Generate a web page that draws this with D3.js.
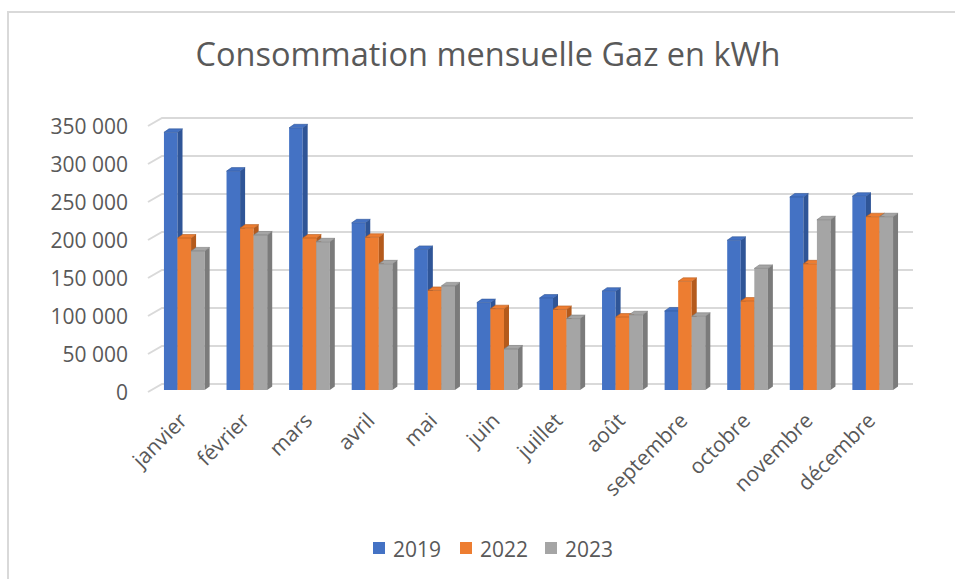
<!DOCTYPE html>
<html>
<head>
<meta charset="utf-8">
<script src="https://d3js.org/d3.v7.min.js"></script>
<style>
    body { margin: 0; background: #fff; }
    text { font-family: "Open Sans", "Noto Sans", sans-serif; fill: #595959; }
</style>
</head>
<body>
<div id="div1"></div>
<script>
var months = ["janvier", "février", "mars", "avril", "mai", "juin", "juillet", "août", "septembre", "octobre", "novembre", "décembre"];
var years = ["2019", "2022", "2023"];
var values2019 = [339000, 288000, 345000, 220000, 185000, 115000, 121000, 130000, 104000, 197000, 254000, 255000];
var values2022 = [200000, 213000, 200000, 201000, 131000, 107000, 106000, 96000, 143000, 117000, 166000, 228000];
var values2023 = [183000, 204000, 195000, 166000, 137000, 54000, 94000, 99000, 97000, 160000, 224000, 228000];
var yTicks = [0, 50000, 100000, 150000, 200000, 250000, 300000, 350000];
var title = "Consommation mensuelle Gaz en kWh";

window.onload = function () {

    var series = [values2019, values2022, values2023];

    //front colour, side colour for each year
    var colors = ["#4472C4", "#ED7D31", "#A5A5A5"];
    var sideColors = ["#2F5597", "#B45A1C", "#7B7B7B"];

    var svg = d3.select("#div1").append("svg").attr("width", 955).attr("height", 579);

    //Chart border (only top and left are in the picture).
    svg.append("path").attr("d", "M8,579 L8,12 L955,12").attr("fill", "none")
            .attr("stroke", "#D9D9D9").attr("stroke-width", 2);

    //Title.
    svg.append("text").attr("x", 488).attr("y", 66).attr("text-anchor", "middle")
            .style("font-size", "32.5px").text(title);

    //Scales. y is the back wall, the bars and labels are shifted to the front.
    var y = d3.scaleLinear().domain([0, 350000]).range([384, 118]);
    var x = d3.scaleBand().domain(months).range([153, 904]).paddingInner(0.35).paddingOuter(0.175);
    var x1 = d3.scaleBand().domain(years).range([0, x.bandwidth()]);

    var wallLeft = 162, wallRight = 913;
    var sideDx = -14, sideDy = 8;     //left side wall depth
    var barFront = 6;                 //bars stand this far below the back wall
    var depthX = 5, depthY = -3.5;    //depth of one bar

    var fmt = d3.formatLocale({decimal: ",", thousands: " ", grouping: [3], currency: ["", " €"]}).format(",");

    //Gridlines with the slanted part on the side wall.
    var grid = svg.append("g");
    grid.selectAll("path").data(yTicks).enter().append("path")
            .attr("d", function (d) {
                return "M" + (wallLeft + sideDx) + "," + (y(d) + sideDy) + " L" + wallLeft + "," + y(d) + " L" + wallRight + "," + y(d);
            })
            .attr("fill", "none").attr("stroke", "#D9D9D9").attr("stroke-width", 2);

    //Y tick labels.
    svg.append("g").selectAll("text").data(yTicks).enter().append("text")
            .attr("x", 128).attr("y", function (d) { return y(d) + sideDy; })
            .attr("dy", "0.36em").attr("text-anchor", "end").style("font-size", "21px")
            .text(function (d) { return fmt(d); });

    //Bars: front face, top and right side.
    var bars = [];
    for (var m = 0; m < months.length; m++) {
        for (var s = 0; s < years.length; s++) {
            bars.push({month: months[m], year: years[s], s: s, value: series[s][m]});
        }
    }

    var barG = svg.append("g").selectAll("g").data(bars).enter().append("g");
    var w = x1.bandwidth();

    barG.append("rect")
            .attr("x", function (d) { return x(d.month) + x1(d.year); })
            .attr("y", function (d) { return y(d.value) + barFront; })
            .attr("width", w)
            .attr("height", function (d) { return y(0) - y(d.value); })
            .attr("fill", function (d) { return colors[d.s]; });

    barG.append("path")
            .attr("d", function (d) {
                var x0 = x(d.month) + x1(d.year) + w, t = y(d.value) + barFront, b = y(0) + barFront;
                return "M" + x0 + "," + t + " L" + (x0 + depthX) + "," + (t + depthY) + " L" + (x0 + depthX) + "," + (b + depthY) + " L" + x0 + "," + b + "Z";
            })
            .attr("fill", function (d) { return sideColors[d.s]; });

    barG.append("path")
            .attr("d", function (d) {
                var x0 = x(d.month) + x1(d.year), t = y(d.value) + barFront;
                return "M" + x0 + "," + t + " L" + (x0 + depthX) + "," + (t + depthY) + " L" + (x0 + w + depthX) + "," + (t + depthY) + " L" + (x0 + w) + "," + t + "Z";
            })
            .attr("fill", function (d) { return colors[d.s]; })
            .attr("stroke", function (d) { return sideColors[d.s]; }).attr("stroke-width", 0.6);

    //Month labels, rotated.
    svg.append("g").selectAll("text").data(months).enter().append("text")
            .attr("text-anchor", "end").style("font-size", "21px")
            .attr("transform", function (d) {
                return "translate(" + (x(d) + x.bandwidth() / 2 + 4) + ",422) rotate(-45)";
            })
            .text(function (d) { return d; });

    //Legend.
    var legendX = [373, 460, 545];
    var legend = svg.append("g").selectAll("g").data(years).enter().append("g")
            .attr("transform", function (d, i) { return "translate(" + legendX[i] + ",542)"; });

    legend.append("rect").attr("width", 12).attr("height", 12)
            .attr("fill", function (d, i) { return colors[i]; });

    legend.append("text").attr("x", 20).attr("y", 14.5).style("font-size", "21px")
            .text(function (d) { return d; });
};
</script>
</body>
</html>
